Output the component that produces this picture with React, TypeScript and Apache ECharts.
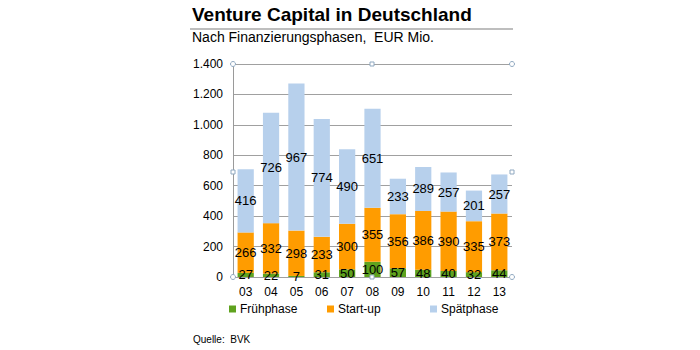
import React, { useEffect, useRef } from "react";
import * as echarts from "echarts";

const years = ["03", "04", "05", "06", "07", "08", "09", "10", "11", "12", "13"];
const fruehphase = [27, 22, 7, 31, 50, 100, 57, 48, 40, 32, 44];
const startup = [266, 332, 298, 233, 300, 355, 356, 386, 390, 335, 373];
const spaetphase = [416, 726, 967, 774, 490, 651, 233, 289, 257, 201, 257];
const seriesNames = ["Frühphase", "Start-up", "Spätphase"];
const colors = ["#5FA21E", "#FF9C00", "#B7D0EC"];

const FONT = "Liberation Sans, Arial, sans-serif";

export default function App() {
  const ref = useRef<HTMLDivElement>(null);
  useEffect(() => {
    if (!ref.current) return;
    const chart = echarts.init(ref.current, null, { renderer: "svg" });
    const label = {
      show: true,
      position: "inside",
      color: "#000",
      fontSize: 13,
      fontFamily: FONT,
    };
    const handleStyle = { fill: "#fff", stroke: "#8FA8C0", lineWidth: 1 };
    const mk = (name: string, data: number[], color: string) => ({
      name,
      type: "bar",
      stack: "total",
      data,
      barCategoryGap: "36%",
      itemStyle: { color },
      label,
    });
    chart.setOption({
      animation: false,
      textStyle: { fontFamily: FONT },
      title: [
        {
          text: "Venture Capital in Deutschland",
          left: 192,
          top: 5,
          padding: 0,
          textStyle: { fontSize: 19, fontWeight: "bold", color: "#000", fontFamily: FONT },
        },
        {
          text: "Nach Finanzierungsphasen,  EUR Mio.",
          left: 192,
          top: 30,
          padding: 0,
          textStyle: { fontSize: 14, fontWeight: "normal", color: "#000", fontFamily: FONT },
        },
        {
          text: "Quelle:  BVK",
          left: 193,
          top: 334,
          padding: 0,
          textStyle: { fontSize: 10, fontWeight: "normal", color: "#000", fontFamily: FONT },
        },
      ],
      legend: [0, 1, 2].map((i) => ({
        data: [seriesNames[i]],
        left: [224, 322, 425][i],
        top: 298,
        icon: "rect",
        itemWidth: 7,
        itemHeight: 7,
        itemGap: 5,
        textStyle: { fontSize: 12, color: "#000", fontFamily: FONT, padding: [0, 0, 0, -1] },
      })),
      grid: { left: 233, right: 188, top: 64, bottom: 73 },
      xAxis: {
        type: "category",
        data: years,
        axisLine: { show: false },
        axisTick: { show: false },
        axisLabel: { fontSize: 12, color: "#000", margin: 9, fontFamily: FONT },
      },
      yAxis: {
        type: "value",
        min: 0,
        max: 1400,
        interval: 200,
        axisLine: { show: true, lineStyle: { color: "#9A9A9A" } },
        axisTick: { show: false },
        axisLabel: {
          fontSize: 12,
          color: "#000",
          margin: 10,
          fontFamily: FONT,
          formatter: (v: number) => v.toLocaleString("de-DE"),
        },
        splitLine: { lineStyle: { color: "#A0A0A0" } },
      },
      graphic: [
        { type: "line", shape: { x1: 190, y1: 29, x2: 513, y2: 29 }, style: { stroke: "#A8A8A8", lineWidth: 1.5 } },
        { type: "circle", shape: { cx: 233, cy: 64, r: 2.5 }, style: handleStyle, z: 100 },
        { type: "rect", shape: { x: 370, y: 62, width: 4, height: 4 }, style: handleStyle, z: 100 },
        { type: "circle", shape: { cx: 512, cy: 64, r: 2.5 }, style: handleStyle, z: 100 },
        { type: "rect", shape: { x: 231, y: 170, width: 4, height: 4 }, style: handleStyle, z: 100 },
        { type: "rect", shape: { x: 510, y: 170, width: 4, height: 4 }, style: handleStyle, z: 100 },
        { type: "circle", shape: { cx: 233, cy: 277, r: 2.5 }, style: handleStyle, z: 100 },
        { type: "rect", shape: { x: 370, y: 275, width: 4, height: 4 }, style: handleStyle, z: 100 },
        { type: "circle", shape: { cx: 512, cy: 277, r: 2.5 }, style: handleStyle, z: 100 },
      ],
      series: [
        mk(seriesNames[0], fruehphase, colors[0]),
        mk(seriesNames[1], startup, colors[1]),
        mk(seriesNames[2], spaetphase, colors[2]),
      ],
    });
    return () => chart.dispose();
  }, []);
  return <div ref={ref} style={{ width: 700, height: 350, position: "absolute", left: 0, top: 0, background: "#fff" }} />;
}
